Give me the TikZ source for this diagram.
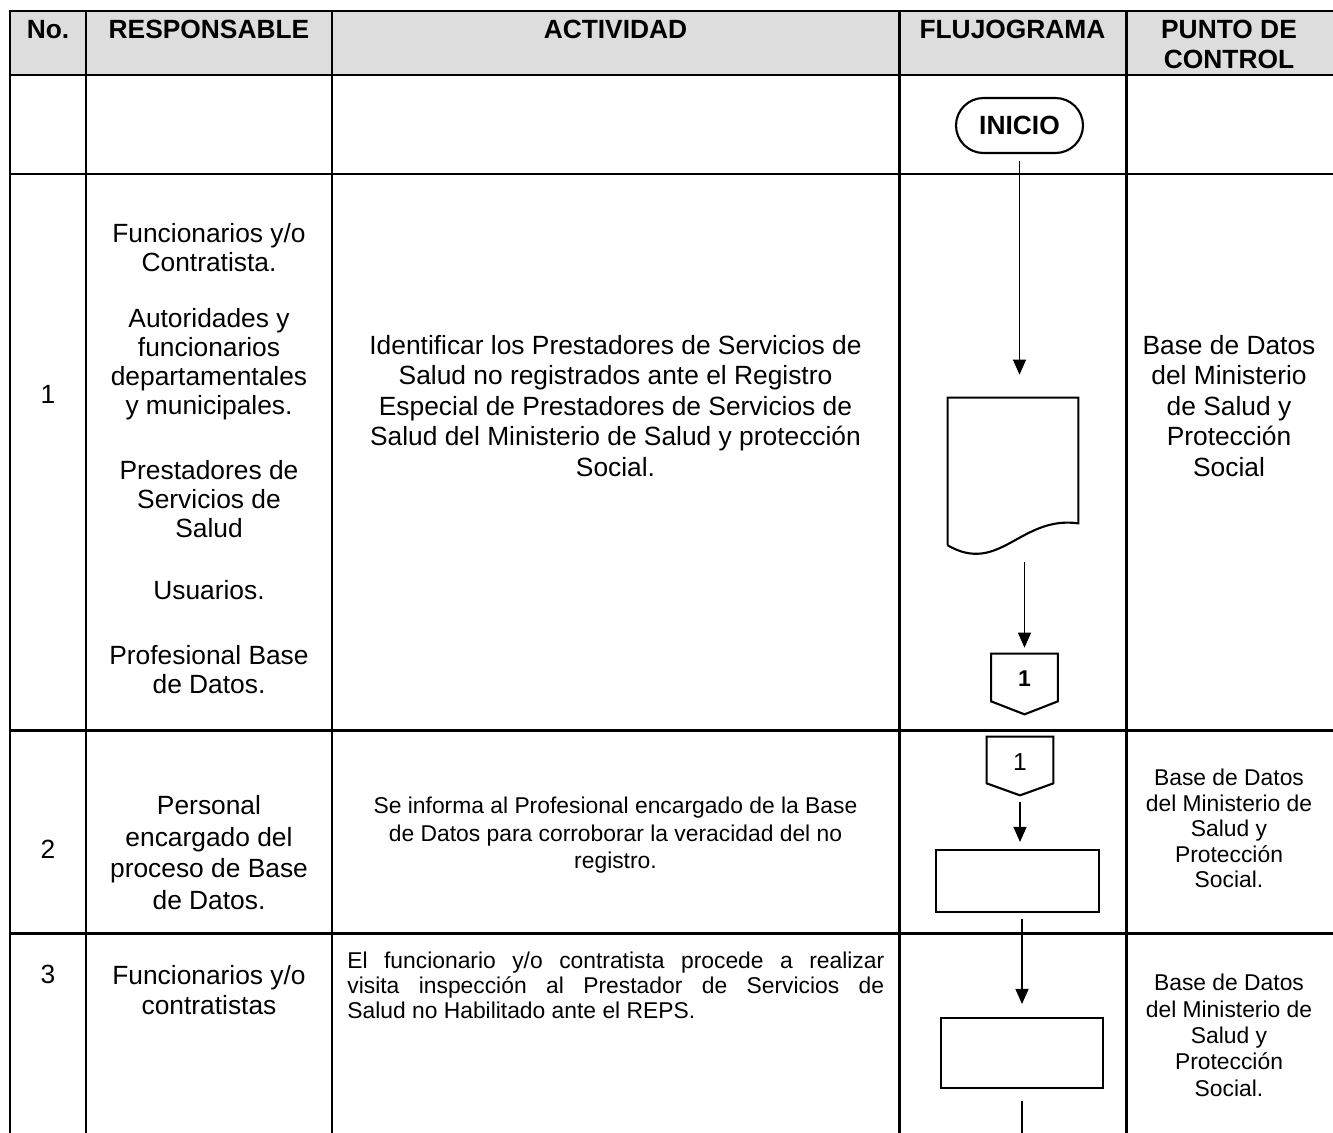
\documentclass[tikz,border=0pt]{standalone}
\usepackage{fontspec}
\setmainfont{Liberation Sans}
\usetikzlibrary{calc,arrows.meta}
\definecolor{hdrgray}{RGB}{221,221,221}
\tikzset{
  tblline/.style={draw=black, line width=1.7pt, line cap=rect},
  hdrtext/.style={font=\fontsize{15}{17}\selectfont\bfseries, anchor=north, align=center, inner sep=0pt},
  celltext/.style={font=\fontsize{15}{16.5}\selectfont, anchor=north, align=center, inner sep=0pt},
  notetext/.style={font=\fontsize{13}{15.5}\selectfont, anchor=north, align=center, inner sep=0pt},
  term/.style={draw=black, line width=1.2pt, rounded corners=0.55cm, minimum width=2.54cm, minimum height=1.1cm, inner sep=0pt, font=\fontsize{15}{17}\selectfont\bfseries},
  procbox/.style={draw=black, line width=1.2pt, inner sep=0pt},
  ghost/.style={inner sep=0pt},
  outline/.style={draw=black, line width=1.2pt, line join=miter},
  flow/.style={draw=black, line width=0.7pt, -{Triangle[width=0.26cm,length=0.3cm]}},
  flowline/.style={draw=black, line width=0.7pt}
}

\begin{document}
\begin{tikzpicture}[x=0.02cm, y=-0.02cm]
  \useasboundingbox (0,0) rectangle (1333,1133);
  % table
  \fill[hdrgray] (10,11) rectangle (1333,75);
  \foreach \y in {11,75,174,730,933}
    \draw[tblline] (10,\y) -- (1333,\y);
  \foreach \x in {10,86,332,899,1126}
    \draw[tblline] (\x,11) -- (\x,1133);

  % header
  \node[hdrtext] (hno)   at (48,20)     {No.};
  \node[hdrtext] (hresp) at (209,20)    {RESPONSABLE};
  \node[hdrtext] (hact)  at (615.5,20)  {ACTIVIDAD};
  \node[hdrtext] (hflu)  at (1012.5,20) {FLUJOGRAMA};
  \node[hdrtext] (hpc)   at (1229,20)   {PUNTO DE\\CONTROL};

  % row 1
  \node[celltext] (no1) at (48,385) {1};
  \node[celltext] (resp1a) at (209,223) {Funcionarios y/o\\Contratista.};
  \node[celltext] (resp1b) at (209,308) {Autoridades y\\funcionarios\\departamentales\\y municipales.};
  \node[celltext] (resp1c) at (209,460) {Prestadores de\\Servicios de\\Salud};
  \node[celltext] (resp1d) at (209,580) {Usuarios.};
  \node[celltext] (resp1e) at (209,645) {Profesional Base\\de Datos.};
  \node[celltext, font=\fontsize{15}{17.3}\selectfont] (act1) at (615.5,335)
    {Identificar los Prestadores de Servicios de\\Salud no registrados ante el Registro\\Especial de Prestadores de Servicios de\\Salud del Ministerio de Salud y protección\\Social.};
  \node[celltext, font=\fontsize{15}{17.3}\selectfont] (pc1) at (1229,335)
    {Base de Datos\\del Ministerio\\de Salud y\\Protección\\Social};

  % row 2
  \node[celltext] (no2) at (48,840) {2};
  \node[celltext, font=\fontsize{15}{18}\selectfont] (resp2) at (209,795)
    {Personal\\encargado del\\proceso de Base\\de Datos.};
  \node[notetext] (act2) at (615.5,797)
    {Se informa al Profesional encargado de la Base\\de Datos para corroborar la veracidad del no\\registro.};
  \node[notetext, font=\fontsize{13}{14.5}\selectfont] (pc2) at (1229,769)
    {Base de Datos\\del Ministerio de\\Salud y\\Protección\\Social.};

  % row 3
  \node[celltext] (no3) at (48,965) {3};
  \node[celltext, font=\fontsize{15}{17}\selectfont] (resp3) at (209,965)
    {Funcionarios y/o\\contratistas};
  \node[notetext, font=\fontsize{13}{14.2}\selectfont, anchor=north west, text width=10.74cm, align=justify] (act3) at (347,952)
    {El funcionario y/o contratista procede a realizar\linebreak visita inspección al Prestador de Servicios de\linebreak Salud no Habilitado ante el REPS.};
  \node[notetext, font=\fontsize{13}{15}\selectfont] (pc3) at (1229,974)
    {Base de Datos\\del Ministerio de\\Salud y\\Protección\\Social.};

  % flujograma
  \node[term] (inicio) at (1019.5,125.5) {INICIO};

  \node[ghost, minimum width=2.6cm, minimum height=2.94cm] (doc) at (1013,471.5) {};
  \draw[outline] (doc.south west) -- (doc.north west) -- (doc.north east)
    -- ($(doc.south east)+(0,-22)$)
    .. controls ($(doc.south east)+(-58,-30)$) and ($(doc.south west)+(52,30)$) .. (doc.south west);

  \node[ghost, minimum width=1.32cm, minimum height=0.94cm, font=\fontsize{13}{15}\selectfont\bfseries] (c1) at (1024.5,679) {1};
  \draw[outline] ($(c1.south west)+(0,-1.5)$) -- ($(c1.north west)+(0,-1.5)$) -- ($(c1.north east)+(0,-1.5)$)
    -- ($(c1.south east)+(0,-1.5)$) -- ($(c1.south)+(0,11.5)$) -- cycle;

  \node[ghost, minimum width=1.32cm, minimum height=0.92cm, font=\fontsize{14}{16}\selectfont] (c2) at (1020,762) {1};
  \coordinate (c2tip) at ($(c2.south)+(0,10)$);
  \draw[outline] ($(c2.south west)+(0,-2)$) -- ($(c2.north west)+(0,-2)$) -- ($(c2.north east)+(0,-2)$)
    -- ($(c2.south east)+(0,-2)$) -- (c2tip) -- cycle;

  \node[procbox, minimum width=3.26cm, minimum height=1.24cm] (p2) at (1017.5,881) {};
  \node[procbox, minimum width=3.24cm, minimum height=1.4cm] (p3) at (1022,1053) {};
  \coordinate (next) at (1022,1133);

  \draw[flow, shorten <=0.14cm, shorten >=0.46cm] (inicio.south) -- (inicio.south |- doc.north);
  \draw[flow, shorten <=0.34cm, shorten >=0.15cm] (c1.north |- doc.south) -- (c1.north);
  \draw[flow, shorten <=0.14cm, shorten >=0.14cm] (c2tip) -- (c2tip |- p2.north);
  \draw[flow, shorten <=0.12cm, shorten >=0.26cm] (p3.north |- p2.south) -- (p3.north);
  \draw[flowline, shorten <=0.24cm] (p3.south) -- (next);
\end{tikzpicture}
\end{document}
